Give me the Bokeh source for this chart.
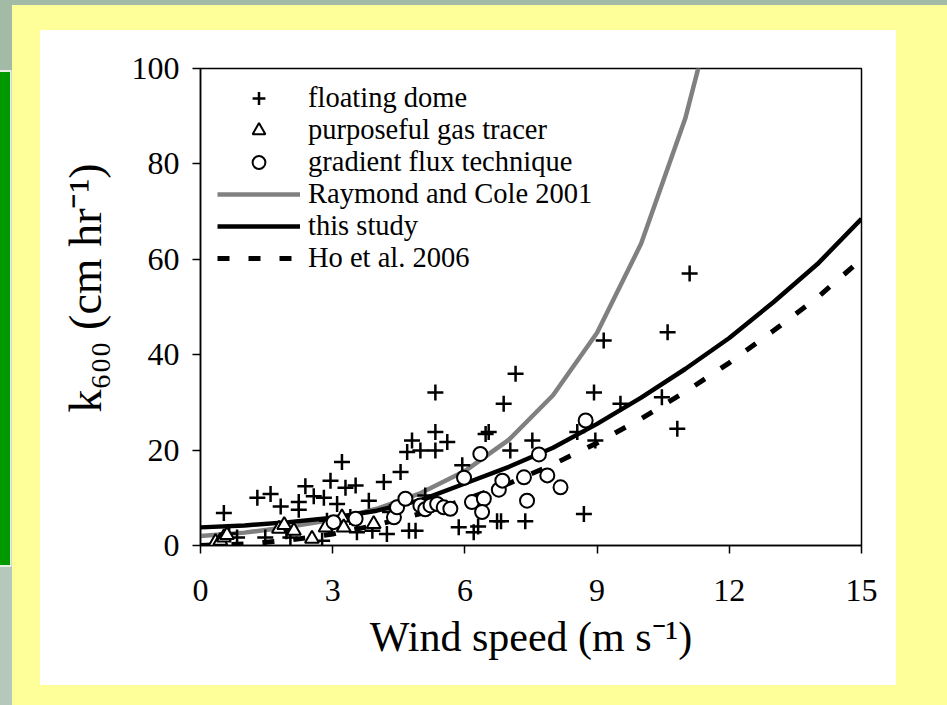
from bokeh.plotting import figure
from bokeh.models import (Legend, LegendItem, Range1d, FixedTicker, Title)
from bokeh.embed import file_html
from bokeh.resources import INLINE

# ---------------- data ----------------
dome_u = [0.53, 0.83, 0.65, 1.29, 1.47, 1.59, 1.82, 1.95, 2.04, 2.23, 2.23, 2.38,
          2.57, 2.76, 2.80, 2.87, 2.95, 3.10, 3.21, 3.29, 3.40, 3.52, 3.55, 3.82,
          3.90, 4.16, 4.23, 4.30, 4.54, 4.69, 4.73, 4.80, 4.88, 4.99, 5.10, 5.33,
          5.33, 5.33, 5.60, 5.86, 5.94, 6.20, 6.30, 6.47, 6.54, 6.73, 6.82, 6.88,
          7.03, 7.15, 7.37, 7.53, 8.55, 8.70, 8.93, 8.96, 9.15, 9.53, 10.47, 10.60,
          10.82, 11.10]
dome_k = [6.8, 1.7, 2.5, 10.0, 1.7, 10.8, 8.2, 3.0, 1.7, 9.1, 7.5, 12.4,
          10.3, 1.0, 10.0, 5.2, 13.6, 8.7, 17.5, 12.1, 6.0, 12.6, 2.8, 9.4,
          3.1, 13.3, 2.4, 7.0, 15.4, 19.6, 3.1, 22.0, 3.1, 19.9, 10.5, 32.1,
          23.8, 19.9, 21.7, 3.8, 16.8, 2.8, 4.0, 23.4, 23.8, 5.1, 5.1, 29.7,
          19.9, 36.0, 5.1, 22.0, 23.8, 6.6, 32.1, 22.0, 43.0, 29.7, 31.1, 44.7,
          24.5, 57.0]

tracer_u = [0.34, 0.45, 0.53, 0.60, 1.78, 1.90, 2.12, 2.53, 2.84, 3.21, 3.25, 3.93]
tracer_k = [0.7, 1.0, 1.7, 2.2, 3.5, 4.3, 3.1, 1.4, 3.8, 5.9, 3.8, 4.5]

grad_u = [3.02, 3.52, 4.39, 4.46, 4.65, 4.99, 5.10, 5.22, 5.37, 5.52, 5.67, 5.98,
          6.16, 6.35, 6.43, 6.39, 6.77, 6.85, 7.34, 7.41, 7.68, 7.87, 8.17, 8.74]
grad_k = [4.9, 5.6, 5.9, 8.0, 9.8, 8.4, 7.6, 8.4, 8.7, 8.0, 7.7, 14.2,
          9.1, 19.2, 9.8, 7.0, 11.7, 13.6, 14.3, 9.4, 19.1, 14.7, 12.2, 26.2]

rc_u = [0, 1, 2, 3, 4, 5, 6, 7, 8, 9, 10, 11, 11.35]
rc_k = [2.0, 2.7, 3.9, 5.4, 7.7, 11.0, 15.6, 22.2, 31.5, 44.6, 63.3, 89.5, 102.0]

ts_u = [0, 1, 2, 3, 4, 5, 6, 7, 8, 9, 10, 11, 12, 13, 14, 15]
ts_k = [3.8, 4.2, 4.9, 5.8, 7.3, 9.5, 13.0, 16.5, 20.5, 25.5, 31.0, 37.0, 43.5, 51.0, 59.0, 68.5]

ho_u = [0, 1, 2, 3, 4, 5, 6, 7, 8, 9, 10, 11, 12, 13, 14, 14.9]
ho_k = [0.0, 0.3, 1.1, 2.4, 4.3, 6.7, 9.6, 13.0, 17.0, 21.5, 26.6, 32.2, 38.3, 45.0, 52.0, 59.2]

x_ticks = [0, 3, 6, 9, 12, 15]
y_ticks = [0, 20, 40, 60, 80, 100]

legend_labels = ["floating dome", "purposeful gas tracer", "gradient flux technique",
                 "Raymond and Cole 2001", "this study", "Ho et al. 2006"]

x_title = "Wind speed (m s\u207b\u00b9)"
y_title = "k\u2086\u2080\u2080 (cm hr\u207b\u00b9)"

# ---------------- layout ----------------
W, H = 947, 705
FL, FR, FT, FB = 200, 861, 68, 545
FONT = "Liberation Serif"

bg = ("linear-gradient(#ffffff,#ffffff) 40px 30px / 856px 655px no-repeat, "
      "linear-gradient(#ffff99,#ffff99) 12px 5px / 935px 700px no-repeat, "
      "linear-gradient(#009900,#009900) 0px 72px / 10px 493px no-repeat, "
      "linear-gradient(#e6eee6,#e6eee6) 0px 70px / 11.5px 497px no-repeat, "
      "linear-gradient(#b5c8bb,#b5c8bb) 0px 70px / 12px 635px no-repeat, "
      "#a3bba6")

p = figure(width=W, height=H, output_backend="svg", toolbar_location=None,
           x_range=Range1d(0, 15), y_range=Range1d(0, 100),
           min_border_left=FL, min_border_right=W - FR,
           min_border_top=FT, min_border_bottom=H - FB, title=None,
           styles={"background": bg})
p.border_fill_alpha = 0
p.background_fill_color = "white"
p.outline_line_color = "black"
p.outline_line_width = 1.5
p.xgrid.visible = False
p.ygrid.visible = False

for ax in (p.xaxis, p.yaxis):
    ax.axis_line_width = 1.5
    ax.axis_line_color = "black"
    ax.major_tick_line_width = 1.5
    ax.major_tick_line_color = "black"
    ax.major_tick_out = 8
    ax.major_tick_in = 0
    ax.minor_tick_out = 0
    ax.minor_tick_in = 0
    ax.major_label_text_font = FONT
    ax.major_label_text_font_size = "32px"
    ax.major_label_text_color = "black"

p.xaxis.ticker = FixedTicker(ticks=x_ticks)
p.yaxis.ticker = FixedTicker(ticks=y_ticks)
p.xaxis.major_label_standoff = 26
p.yaxis.major_label_standoff = 13

p.xaxis.axis_label = x_title
p.xaxis.axis_label_text_font = FONT
p.xaxis.axis_label_text_font_size = "42px"
p.xaxis.axis_label_text_font_style = "normal"
p.xaxis.axis_label_text_color = "black"
p.xaxis.axis_label_standoff = 10

# blank spacer between the y axis and its title
spacer = Title(text=" ", text_font_size="12px", standoff=0)
p.add_layout(spacer, "left")
ytitle = Title(text=y_title, align="left", offset=133, text_font=FONT,
               text_font_size="46px", text_font_style="normal",
               text_color="black", standoff=4)
p.add_layout(ytitle, "left")

# ---------------- series ----------------
r_rc = p.line(rc_u, rc_k, line_color="#808080", line_width=4.5)
r_ts = p.line(ts_u, ts_k, line_color="black", line_width=4.5)
r_ho = p.line(ho_u, ho_k, line_color="black", line_width=5, line_dash="12 19")
r_dome = p.scatter(dome_u, dome_k, marker="cross", size=16, line_color="black",
                   line_width=2.5)
r_tr = p.scatter(tracer_u, tracer_k, marker="triangle", size=14, fill_color="white",
                 line_color="black", line_width=2)
r_gr = p.scatter(grad_u, grad_k, marker="circle", size=14, fill_color="white",
                 line_color="black", line_width=2)

# one single-row legend per entry, so the rows sit 32 px apart
renderers = [r_dome, r_tr, r_gr, r_rc, r_ts, r_ho]
for i, (lbl, r) in enumerate(zip(legend_labels, renderers)):
    leg = Legend(items=[LegendItem(label=lbl, renderers=[r])],
                 location=(17, 431.5 - 32 * i), glyph_width=83, glyph_height=32,
                 label_height=32, label_standoff=8, spacing=0, padding=0, margin=0,
                 border_line_color=None, background_fill_alpha=0,
                 label_text_font=FONT, label_text_font_size="28.5px",
                 label_text_color="black")
    p.add_layout(leg)

open("out.html", "w").write(file_html(p, INLINE))
